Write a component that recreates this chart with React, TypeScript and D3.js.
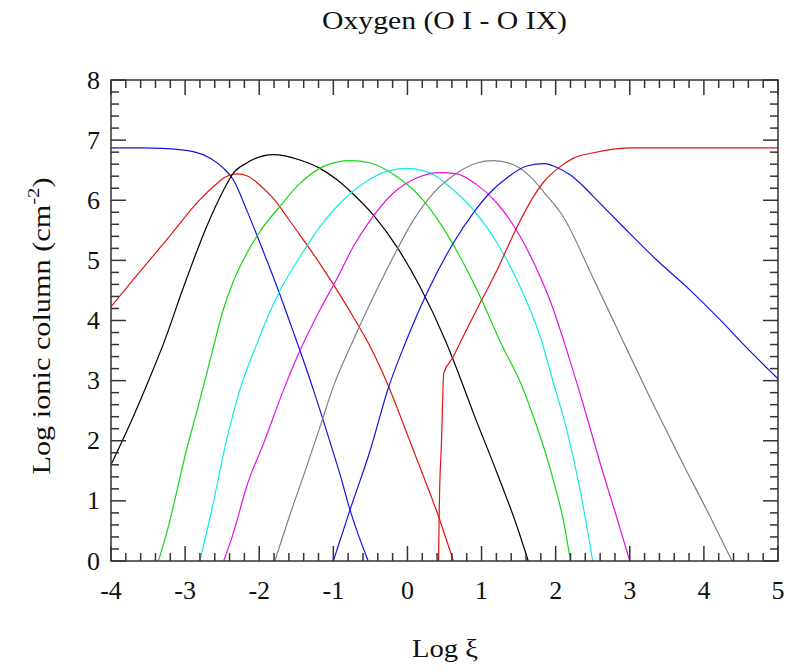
import React from "react";
import * as d3 from "d3";

const TITLE = "Oxygen (O I - O IX)";
const X_LABEL = "Log ξ";
const X_TICKS = [-4, -3, -2, -1, 0, 1, 2, 3, 4, 5];
const Y_TICKS = [0, 1, 2, 3, 4, 5, 6, 7, 8];

const O_I: [number, number][] = [[-4, 6.87], [-3.6, 6.87], [-3.25, 6.86], [-2.89, 6.81], [-2.66, 6.7], [-2.48, 6.53], [-2.35, 6.34], [-2.17, 5.84], [-1.99, 5.29], [-1.76, 4.56], [-1.58, 3.95], [-1.45, 3.5], [-1.27, 2.85], [-1.04, 1.96], [-0.9, 1.4], [-0.775, 0.85], [-0.53, 0]];
const O_II: [number, number][] = [[-4, 4.23], [-3.7, 4.68], [-3.25, 5.34], [-2.8, 6.01], [-2.57, 6.28], [-2.45, 6.39], [-2.3, 6.44], [-2.15, 6.4], [-1.99, 6.25], [-1.81, 6.03], [-1.6, 5.68], [-1.45, 5.42], [-1.2, 4.98], [-1.0, 4.6], [-0.75, 4.1], [-0.5, 3.56], [-0.26, 2.92], [0.0, 2.1], [0.125, 1.7], [0.42, 0.74], [0.62, 0]];
const O_III: [number, number][] = [[-4, 1.6], [-3.7, 2.4], [-3.47, 3.07], [-3.29, 3.62], [-3.02, 4.56], [-2.71, 5.56], [-2.48, 6.17], [-2.35, 6.45], [-2.17, 6.62], [-1.81, 6.76], [-1.45, 6.67], [-1.18, 6.53], [-0.95, 6.34], [-0.73, 6.1], [-0.45, 5.74], [-0.14, 5.22], [0.17, 4.56], [0.5, 3.7], [0.62, 3.34], [0.89, 2.46], [1.21, 1.46], [1.48, 0.57], [1.63, 0]];
const O_IV: [number, number][] = [[-3.36, 0], [-3.25, 0.46], [-2.98, 1.85], [-2.8, 2.68], [-2.61, 3.6], [-2.5, 4.12], [-2.35, 4.65], [-2.21, 5.02], [-1.99, 5.48], [-1.72, 5.9], [-1.45, 6.28], [-1.1, 6.58], [-0.775, 6.66], [-0.5, 6.62], [-0.14, 6.39], [0.17, 6.06], [0.44, 5.62], [0.71, 5.06], [0.98, 4.4], [1.27, 3.6], [1.52, 2.98], [1.7, 2.4], [1.85, 1.85], [2.0, 1.2], [2.1, 0.7], [2.2, 0]];
const O_V: [number, number][] = [[-2.8, 0], [-2.66, 0.74], [-2.44, 2.01], [-2.26, 2.85], [-2.03, 3.62], [-1.76, 4.4], [-1.45, 5.06], [-1.18, 5.56], [-0.91, 5.95], [-0.595, 6.28], [-0.28, 6.48], [-0.01, 6.53], [0.31, 6.45], [0.62, 6.17], [0.89, 5.84], [1.21, 5.29], [1.52, 4.56], [1.8, 3.7], [1.97, 2.96], [2.15, 2.18], [2.33, 1.18], [2.5, 0]];
const O_VI: [number, number][] = [[-2.48, 0], [-2.35, 0.46], [-2.17, 1.24], [-1.94, 1.96], [-1.67, 2.85], [-1.45, 3.5], [-1.18, 4.18], [-0.95, 4.7], [-0.73, 5.23], [-0.5, 5.67], [-0.19, 6.12], [0.125, 6.37], [0.44, 6.46], [0.665, 6.44], [0.935, 6.26], [1.21, 5.95], [1.52, 5.4], [1.79, 4.73], [1.97, 4.18], [2.12, 3.62], [2.38, 2.57], [2.6, 1.63], [2.82, 0.74], [3.0, 0]];
const O_VII: [number, number][] = [[-1.79, 0], [-1.58, 0.79], [-1.36, 1.57], [-1.18, 2.23], [-1.0, 2.9], [-0.75, 3.62], [-0.5, 4.29], [-0.19, 5.06], [0.08, 5.67], [0.35, 6.12], [0.665, 6.45], [0.935, 6.62], [1.16, 6.66], [1.43, 6.59], [1.7, 6.34], [1.85, 6.12], [2.1, 5.73], [2.5, 4.72], [2.9, 3.68], [3.3, 2.65], [3.7, 1.66], [4.1, 0.7], [4.38, 0]];
const O_VIII: [number, number][] = [[-1.0, 0], [-0.775, 0.85], [-0.5, 1.85], [-0.26, 2.87], [-0.03, 3.62], [0.26, 4.45], [0.62, 5.29], [0.89, 5.79], [1.11, 6.12], [1.34, 6.37], [1.61, 6.57], [1.85, 6.61], [2.01, 6.55], [2.2, 6.42], [2.4, 6.2], [2.55, 6.01], [2.91, 5.56], [3.36, 5.01], [3.81, 4.51], [4.22, 4.01], [4.6, 3.52], [5.0, 3.03]];
const O_IX: [number, number][] = [[0.42, 0], [0.43, 0.9], [0.46, 2.01], [0.49, 3.12], [0.62, 3.4], [0.73, 3.68], [0.98, 4.29], [1.21, 4.84], [1.48, 5.56], [1.7, 6.06], [1.85, 6.32], [2.01, 6.51], [2.24, 6.7], [2.51, 6.79], [2.78, 6.85], [3.05, 6.87], [5.0, 6.87]];

const SERIES = [O_I, O_II, O_III, O_IV, O_V, O_VI, O_VII, O_VIII, O_IX];
const COLORS = ["#1414e0", "#e01414", "#000000", "#14d814", "#14e8e8", "#e014e0", "#808080", "#1414e0", "#e01414"];

const W = 786;
const H = 672;
const L = 111, R = 778, T = 80, B = 561;
const FONT = "Liberation Serif, Tinos, Times New Roman, Times, serif";
const AX = "#333333";

export default function App() {
  const x = d3.scaleLinear().domain([-4, 5]).range([L, R]);
  const y = d3.scaleLinear().domain([0, 8]).range([B, T]);
  const line = d3.line<[number, number]>().x(d => x(d[0])).y(d => y(d[1])).curve(d3.curveMonotoneX);

  const xMinor = d3.range(-4, 5.0001, 0.2).map(v => Math.round(v * 10) / 10);
  const yMinor = d3.range(0, 8.0001, 0.2).map(v => Math.round(v * 10) / 10);
  const isMajor = (v: number) => Math.abs(v - Math.round(v)) < 1e-6;
  const MAJ = 15, MIN = 8;
  const ts = { fontFamily: FONT };

  return (
    <svg width={W} height={H} style={{ position: "absolute", left: 0, top: 0, background: "#fff" }}>
      <defs>
        <clipPath id="plot">
          <rect x={L} y={T} width={R - L} height={B - T} />
        </clipPath>
      </defs>
      <rect x={0} y={0} width={W} height={H} fill="#fff" />
      <g clipPath="url(#plot)">
        {SERIES.map((s, i) => (
          <path key={i} d={line(s) || ""} fill="none" stroke={COLORS[i]} strokeWidth={1.2} />
        ))}
      </g>
      <g stroke={AX} strokeWidth={1.5}>
        {xMinor.map((v, i) => {
          const len = isMajor(v) ? MAJ : MIN;
          return (
            <g key={"x" + i}>
              <line x1={x(v)} x2={x(v)} y1={B} y2={B - len} />
              <line x1={x(v)} x2={x(v)} y1={T} y2={T + len} />
            </g>
          );
        })}
        {yMinor.map((v, i) => {
          const len = isMajor(v) ? MAJ : MIN;
          return (
            <g key={"y" + i}>
              <line x1={L} x2={L + len} y1={y(v)} y2={y(v)} />
              <line x1={R} x2={R - len} y1={y(v)} y2={y(v)} />
            </g>
          );
        })}
      </g>
      <rect x={L} y={T} width={R - L} height={B - T} fill="none" stroke={AX} strokeWidth={1.5} />
      <g style={ts} fontSize={26} fill="#111">
        {X_TICKS.map(v => (
          <text key={"xl" + v} x={x(v)} y={599} textAnchor="middle">{v}</text>
        ))}
        {Y_TICKS.map(v => (
          <text key={"yl" + v} x={100} y={y(v) + 8.5} textAnchor="end">{v}</text>
        ))}
      </g>
      <text style={ts} x={444.5} y={29} textAnchor="middle" fontSize={25} fill="#111" textLength={245} lengthAdjust="spacingAndGlyphs">{TITLE}</text>
      <text style={ts} x={445} y={657} textAnchor="middle" fontSize={25} fill="#111" textLength={66} lengthAdjust="spacingAndGlyphs">{X_LABEL}</text>
      <text style={ts} transform="translate(50,326) rotate(-90)" textAnchor="middle" fontSize={25} fill="#111" textLength={297} lengthAdjust="spacingAndGlyphs">
        Log ionic column (cm<tspan dy={-11} fontSize={17}>-2</tspan><tspan dy={11}>)</tspan>
      </text>
    </svg>
  );
}
